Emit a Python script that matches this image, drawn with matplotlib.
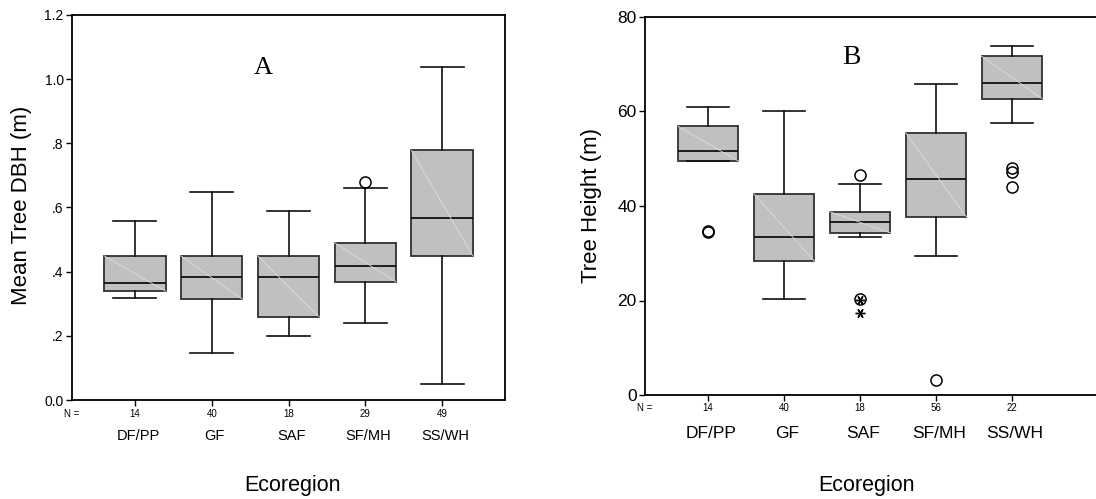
import matplotlib.pyplot as plt
from matplotlib.ticker import FixedLocator, FixedFormatter

plt.rcParams['font.family'] = ['Liberation Sans', 'DejaVu Sans']

regions = ['DF/PP', 'GF', 'SAF', 'SF/MH', 'SS/WH']

# A: mean tree DBH (m) by ecoregion
dbh_n = [14, 40, 18, 29, 49]
dbh_lo = [0.317, 0.148, 0.198, 0.241, 0.050]
dbh_q1 = [0.339, 0.314, 0.259, 0.368, 0.449]
dbh_med = [0.365, 0.382, 0.382, 0.419, 0.568]
dbh_q3 = [0.449, 0.449, 0.449, 0.490, 0.778]
dbh_hi = [0.559, 0.648, 0.589, 0.661, 1.039]
dbh_out = [[], [], [], [0.678], []]
dbh_ext = [[], [], [], [], []]

# B: tree height (m) by ecoregion
ht_n = [14, 40, 18, 56, 22]
ht_lo = [49.5, 20.3, 33.5, 29.4, 57.5]
ht_q1 = [49.5, 28.3, 34.3, 37.7, 62.7]
ht_med = [51.7, 33.5, 36.7, 45.7, 66.1]
ht_q3 = [56.9, 42.6, 38.8, 55.5, 71.7]
ht_hi = [60.9, 60.1, 44.6, 65.8, 73.8]
ht_out = [[34.5, 34.7], [], [46.6, 20.4], [3.1], [48.1, 47.1, 44.1]]
ht_ext = [[], [], [20.2, 17.4], [], []]

W = 1096
H = 499
fig = plt.figure(figsize=(W / 100, H / 100), dpi=100)


def px_rect(x0, x1, ytop, ybot):
    return [x0 / W, 1 - ybot / H, (x1 - x0) / W, (ybot - ytop) / H]


def draw_panel(ax, lo, q1, med, q3, hi, out, ext):
    pos = list(range(1, len(lo) + 1))
    stats = []
    for i in range(len(lo)):
        stats.append({'whislo': lo[i], 'q1': q1[i], 'med': med[i],
                      'q3': q3[i], 'whishi': hi[i], 'fliers': []})
    ax.bxp(stats, positions=pos, widths=0.8, capwidths=0.56,
           showfliers=False, patch_artist=True,
           boxprops=dict(facecolor='#c0c0c0', edgecolor='#303030', linewidth=1.3),
           medianprops=dict(color='#101010', linewidth=1.3),
           whiskerprops=dict(color='#101010', linewidth=1.2),
           capprops=dict(color='#101010', linewidth=1.2))
    # faint diagonal across each box
    for p, a, b in zip(pos, q3, q1):
        ax.plot([p - 0.4, p + 0.4], [a, b], color='#dedede', lw=0.6, zorder=2.5)
    for p, vals in zip(pos, out):
        ax.plot([p] * len(vals), vals, 'o', ms=8, mfc='none', mec='black',
                mew=1.1, zorder=4, clip_on=False)
    for p, vals in zip(pos, ext):
        ax.plot([p] * len(vals), vals, marker=(6, 2, 90), ls='none', ms=7,
                mec='black', mew=1.0, zorder=4)
    ax.set_xticks(pos)
    ax.set_xticklabels([])
    ax.tick_params(axis='both', direction='out', length=4, width=1, color='black')
    for s in ax.spines.values():
        s.set_linewidth(1.3)


# panel A
axA = fig.add_axes(px_rect(72, 505, 15, 400))
draw_panel(axA, dbh_lo, dbh_q1, dbh_med, dbh_q3, dbh_hi, dbh_out, dbh_ext)
axA.set_xlim(0.18, 5.82)
axA.set_ylim(0, 1.2)
axA.yaxis.set_major_locator(FixedLocator([0, 0.2, 0.4, 0.6, 0.8, 1.0, 1.2]))
axA.yaxis.set_major_formatter(FixedFormatter(['0.0', '.2', '.4', '.6', '.8', '1.0', '1.2']))
axA.tick_params(axis='y', labelsize=10, pad=2)

# panel B, right edge runs off the figure
axB = fig.add_axes(px_rect(645, 1104, 17, 395))
draw_panel(axB, ht_lo, ht_q1, ht_med, ht_q3, ht_hi, ht_out, ht_ext)
axB.set_xlim(0.17, 1 + (1104 - 708) / 76)
axB.set_ylim(0, 80)
axB.set_yticks([0, 20, 40, 60, 80])
axB.tick_params(axis='y', labelsize=12.5, pad=2)

# sample sizes, category names and axis titles
def label_panel(ax, counts, ax_left, n_y, cat_y, cat_size, title_x, ylab, ylab_x):
    fig.text(ax_left / W, 1 - n_y / H, 'N =', fontsize=7, ha='center', va='center')
    for i, (c, name) in enumerate(zip(counts, regions)):
        xd = ax.transData.transform((i + 1, 0))[0] / fig.dpi / fig.get_figwidth()
        fig.text(xd, 1 - n_y / H, str(c), fontsize=7, ha='center', va='center')
        fig.text(xd + 3 / W, 1 - cat_y / H, name, fontsize=cat_size, ha='center', va='center')
    fig.text(title_x / W, 1 - 486 / H, 'Ecoregion', fontsize=15.5, ha='center', va='center')
    fig.text(ylab_x / W, 1 - 205 / H, ylab, fontsize=16, rotation=90,
             ha='center', va='center')


label_panel(axA, dbh_n, 72, 414, 436, 10.5, 293, 'Mean Tree DBH (m)', 22)
label_panel(axB, ht_n, 645, 408, 433, 12.5, 866, 'Tree Height (m)', 591)

fig.text(263 / W, 1 - 68 / H, 'A', fontsize=19, family='Liberation Serif',
         ha='center', va='center')
fig.text(851 / W, 1 - 57 / H, 'B', fontsize=20, family='Liberation Serif',
         ha='center', va='center')

fig.savefig('out.png', dpi=100)
